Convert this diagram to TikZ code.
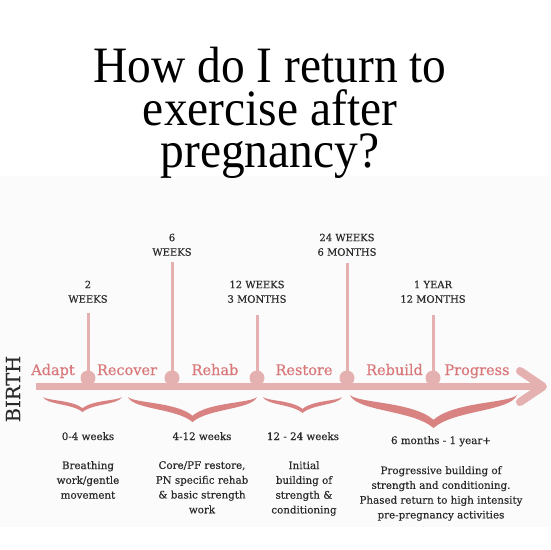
\documentclass[tikz,border=0pt]{standalone}
\usepackage{fontspec}
\newfontfamily\dvs[FakeBold=0.35]{DejaVu Serif}
\newfontfamily\ttl{Liberation Serif}
\definecolor{barcol}{HTML}{E5B0B0}
\definecolor{bracecol}{HTML}{D98282}
\definecolor{stagecol}{HTML}{D9787A}
\definecolor{inkcol}{HTML}{2A2A2A}
\definecolor{panelcol}{HTML}{FBFBFB}
\newcommand\mybrace[4]{%
 \pgfmathsetmacro\bxa{#1}\pgfmathsetmacro\bxb{#2}\pgfmathsetmacro\bya{#3}\pgfmathsetmacro\byt{#4}%
 \pgfmathsetmacro\bxm{(\bxa+\bxb)/2}\pgfmathsetmacro\bl{(\bxb-\bxa)/2}\pgfmathsetmacro\bh{\byt-\bya}%
 \fill[bracecol] (\bxa,\bya) .. controls ({\bxa+0.08*\bl},{\bya+0.5*\bh}) and ({\bxm-0.25*\bl},{\bya+0.45*\bh}) .. (\bxm,\byt)
   .. controls ({\bxm+0.25*\bl},{\bya+0.45*\bh}) and ({\bxb-0.08*\bl},{\bya+0.5*\bh}) .. (\bxb,\bya)
   .. controls ({\bxb-0.1*\bl},{\bya+0.25*\bh}) and ({\bxm+0.25*\bl},{\bya+0.2*\bh}) .. (\bxm,{\bya+0.75*\bh})
   .. controls ({\bxm-0.25*\bl},{\bya+0.2*\bh}) and ({\bxa+0.1*\bl},{\bya+0.25*\bh}) .. (\bxa,\bya) -- cycle;}
\newcommand\tl[1]{\scalebox{0.93}[1]{#1}}
\tikzset{
 titleblock/.style={font=\ttl\fontsize{51}{42.5}\selectfont, inner sep=0, anchor=north, align=center},
 stage/.style={font=\dvs\fontsize{14.5}{16}\selectfont, text=stagecol, inner sep=0, anchor=base},
 toplabel/.style={font=\dvs\fontsize{10}{14.5}\selectfont, text=inkcol, inner sep=0, anchor=south, align=center},
 period/.style={font=\dvs\fontsize{10.3}{12}\selectfont, text=inkcol, inner sep=0, anchor=base},
 desc/.style={font=\dvs\fontsize{10.3}{14.8}\selectfont, text=inkcol, inner sep=0, anchor=north, align=center},
 dot/.style={circle, fill=barcol, minimum size=15pt, inner sep=0},
 tick/.style={draw=barcol, line width=3pt},
}
\begin{document}
\begin{tikzpicture}[x=1pt,y=-1pt]
\useasboundingbox (0,0) rectangle (550,550);
\fill[white] (0,0) rectangle (550,550);
\fill[panelcol] (0,176) rectangle (550,527);
% title
\node[titleblock] (title) at (270,47) {\tl{How do I return to}\\\tl{exercise after}\\\tl{pregnancy?}};
% bar and arrow
\coordinate (bs) at (36,386.5);
\coordinate (be) at (543,386.5);
\draw[barcol, line width=7pt] (bs) -- (be);
\coordinate (ha) at (520,371);
\coordinate (hb) at (520,402);
\draw[barcol, line width=8pt, line cap=round, line join=round] (ha) -- (be) -- (hb);
% milestones
\node[dot] (m1) at (88,378) {};
\node[dot] (m2) at (172,378) {};
\node[dot] (m3) at (257,378) {};
\node[dot] (m4) at (347,378) {};
\node[dot] (m5) at (433,378) {};
\coordinate (c1) at (88,313);
\coordinate (c2) at (172,262);
\coordinate (c3) at (257,315);
\coordinate (c4) at (347,263);
\coordinate (c5) at (433,315);
\foreach \i in {1,...,5} \draw[tick] (c\i) -- (m\i.center);
\node[toplabel] (l1) at (88,303) {2\\WEEKS};
\node[toplabel] (l2) at (172,256) {6\\WEEKS};
\node[toplabel] (l3) at (257,303) {12 WEEKS\\3 MONTHS};
\node[toplabel] (l4) at (347,256) {24 WEEKS\\6 MONTHS};
\node[toplabel] (l5) at (433,303) {1 YEAR\\12 MONTHS};
% stages
\node[stage] (s1) at (53,375) {Adapt};
\node[stage] (s2) at (127,375) {Recover};
\node[stage] (s3) at (215,375) {Rehab};
\node[stage] (s4) at (304,375) {Restore};
\node[stage] (s5) at (394.5,375) {Rebuild};
\node[stage] (s6) at (477,375) {Progress};
% birth
\node[font=\dvs\fontsize{19.5}{20}\selectfont, text=inkcol, rotate=90, inner sep=0] (birth) at (13,389) {BIRTH};
% braces
\mybrace{43}{122}{397}{412}
\mybrace{128}{257}{397}{422}
\mybrace{263}{342}{397}{413}
\mybrace{350}{517}{395}{428}
% periods
\node[period] (p1) at (88,440) {0-4 weeks};
\node[period] (p2) at (202,440) {4-12 weeks};
\node[period] (p3) at (303,440) {12 - 24 weeks};
\node[period] (p4) at (441,444) {6 months - 1 year+};
% descriptions
\node[desc] (d1) at (88,461) {Breathing\\work/gentle\\movement};
\node[desc] (d2) at (202,461) {Core/PF restore,\\PN specific rehab\\\& basic strength\\work};
\node[desc] (d3) at (304,461) {Initial\\building of\\strength \&\\conditioning};
\node[desc] (d4) at (441,466) {Progressive building of\\strength and conditioning.\\Phased return to high intensity\\pre-pregnancy activities};
\end{tikzpicture}
\end{document}
